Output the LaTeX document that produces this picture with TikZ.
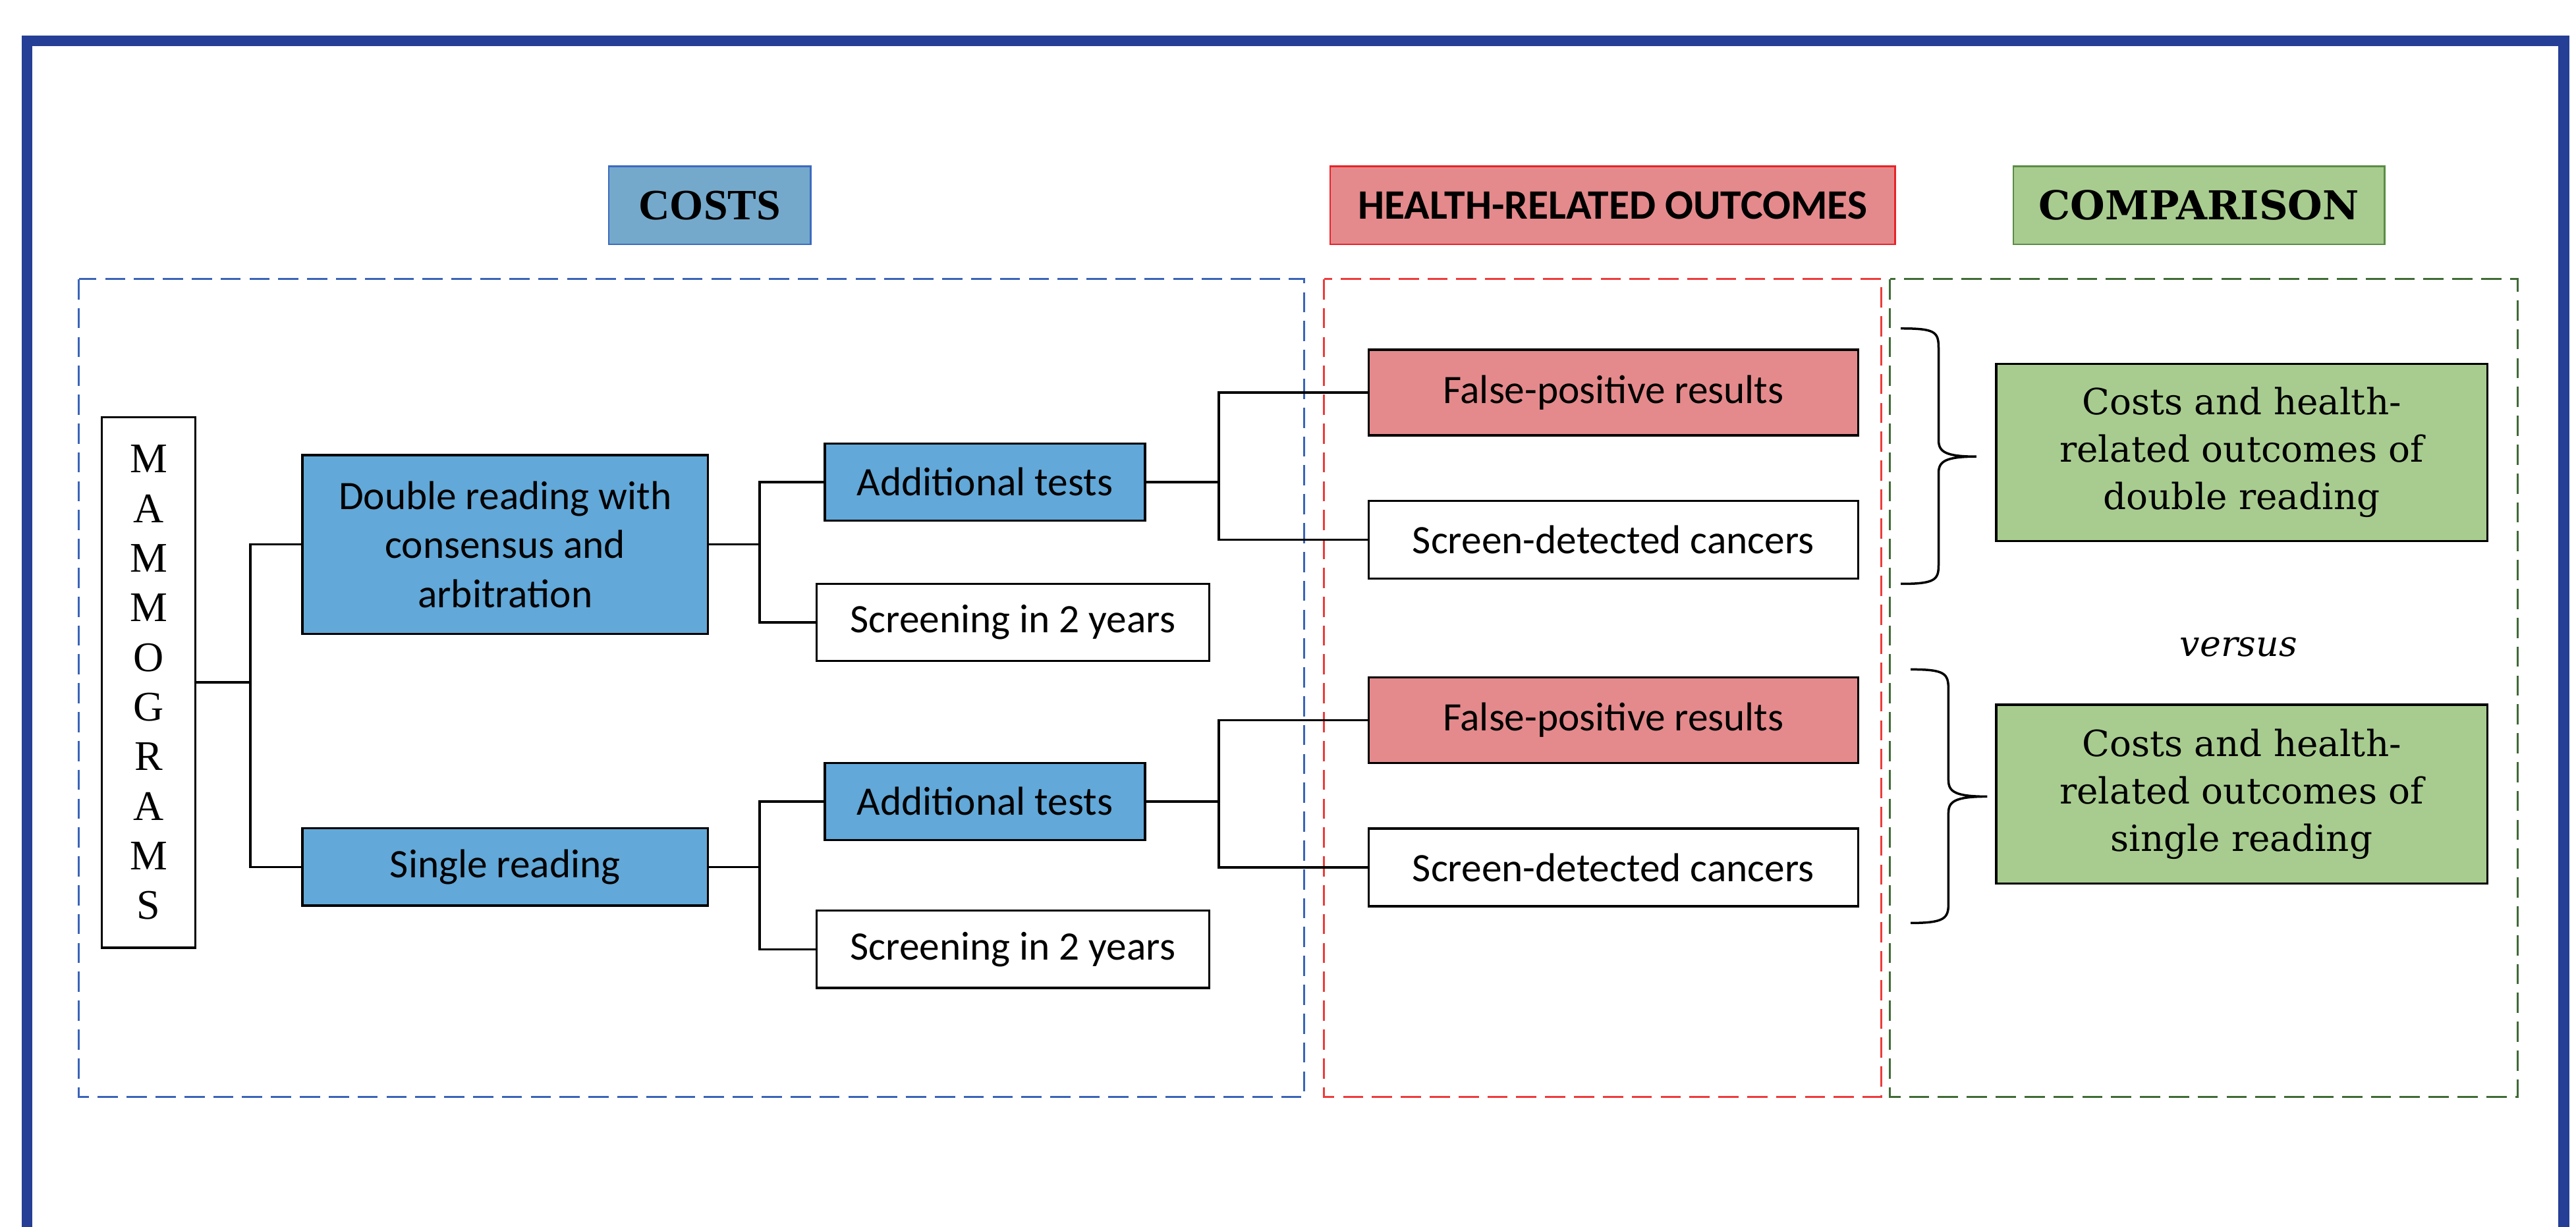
\documentclass[tikz,border=0pt]{standalone}
\usepackage{fontspec}
\setmainfont{Carlito}
\newfontfamily\georgiafont{DejaVu Serif}
\newfontfamily\timesfont{Liberation Serif}
\usepackage{tikz}
\usetikzlibrary{positioning}

\definecolor{frameblue}{HTML}{253F96}
\definecolor{costblue}{HTML}{74A9CB}
\definecolor{costedge}{HTML}{3D6AC0}
\definecolor{boxblue}{HTML}{62A8D8}
\definecolor{healthred}{HTML}{E48A8C}
\definecolor{healthedge}{HTML}{E8232A}
\definecolor{compgreen}{HTML}{A8CC8F}
\definecolor{compedge}{HTML}{5B8C45}
\definecolor{dashblue}{HTML}{3A64B8}
\definecolor{dashred}{HTML}{EE3B3B}
\definecolor{dashgreen}{HTML}{3F6B35}

\begin{document}
\begin{tikzpicture}[x=0.02cm, y=-0.02cm, line width=0.8pt]
    % Styles
    \tikzstyle{costbox}=[rectangle, draw, fill=boxblue, align=center, inner sep=0pt, font=\fontsize{14}{17}\selectfont]
    \tikzstyle{plainbox}=[rectangle, draw, fill=white, align=center, inner sep=0pt, font=\fontsize{14}{17}\selectfont]
    \tikzstyle{falsebox}=[rectangle, draw, fill=healthred, align=center, inner sep=0pt, font=\fontsize{14}{17}\selectfont, minimum width=5.96cm, minimum height=1.04cm]
    \tikzstyle{compbox}=[rectangle, draw, fill=compgreen, align=center, inner sep=0pt, font=\georgiafont\fontsize{12.5}{16.4}\selectfont, minimum width=5.98cm]
    \tikzstyle{header}=[rectangle, draw, line width=0.6pt, inner sep=0pt, minimum height=0.95cm]
    \tikzstyle{frame}=[dash pattern=on 7pt off 3pt, line width=0.7pt]

    \useasboundingbox (0,0) rectangle (1568,747);
    \clip (0,0) rectangle (1568,747);
    \draw[frameblue, line width=3.7pt] (16.3,24.8) rectangle (1560.6,800);

    % Headings
    \node (costs) [header, fill=costblue, draw=costedge, minimum width=2.46cm, font=\timesfont\bfseries\fontsize{15}{18}\selectfont] at (432,125) {COSTS};
    \node (health) [header, fill=healthred, draw=healthedge, minimum width=6.88cm, font=\bfseries\fontsize{14.5}{17}\selectfont] at (981.6,125) {HEALTH-RELATED OUTCOMES};
    \node (comparison) [header, fill=compgreen, draw=compedge, minimum width=4.52cm, font=\georgiafont\bfseries\fontsize{13.8}{17}\selectfont] at (1338.5,125) {COMPARISON};

    % Dashed panels
    \draw[frame, dashblue] (48,170) rectangle (794,668);
    \draw[frame, dashred] (806,170) rectangle (1145,668);
    \draw[frame, dashgreen] (1150.5,170) rectangle (1532.5,668);

    % Costs
    \node (mam) [plainbox, minimum width=1.14cm, minimum height=6.46cm, font=\timesfont\fontsize{14.6}{17.2}\selectfont] at (90.5,415.5) {M\\A\\M\\M\\O\\G\\R\\A\\M\\S};
    \node (dbl) [costbox, minimum width=4.94cm, minimum height=2.18cm] at (307.5,331.5) {Double reading with\\consensus and\\arbitration};
    \node (sgl) [costbox, minimum width=4.94cm, minimum height=0.94cm, below=2.34cm of dbl] {Single reading};
    \node (add1) [costbox, minimum width=3.9cm, minimum height=0.94cm] at (599.5,293.5) {Additional tests};
    \node (scr1) [plainbox, minimum width=4.78cm, minimum height=0.94cm] at (616.5,379) {Screening in 2 years};
    \node (add2) [costbox, minimum width=3.9cm, minimum height=0.94cm] at (599.5,488) {Additional tests};
    \node (scr2) [plainbox, minimum width=4.78cm, minimum height=0.94cm] at (616.5,578) {Screening in 2 years};

    % Health-related outcomes
    \node (fp1) [falsebox] at (982,239) {False-positive results};
    \node (sd1) [plainbox, minimum width=5.96cm, minimum height=0.95cm, below=0.77cm of fp1] {Screen-detected cancers};
    \node (fp2) [falsebox] at (982,438.5) {False-positive results};
    \node (sd2) [plainbox, minimum width=5.96cm, minimum height=0.95cm, below=0.77cm of fp2] {Screen-detected cancers};

    % Comparison
    \node (cmp1) [compbox, minimum height=2.16cm] at (1364.5,275.5) {Costs and health-\\related outcomes of\\double reading};
    \node (vs) [font=\georgiafont\itshape\fontsize{12.3}{15}\selectfont] at (1362.6,394) {versus};
    \node (cmp2) [compbox, minimum height=2.18cm] at (1364.5,483.5) {Costs and health-\\related outcomes of\\single reading};

    % Tree lines
    \draw (dbl.west) -- ++(-31,0) coordinate (jm) |- (sgl.west);
    \draw (mam.east) -- (mam.east -| jm);
    \draw (add1.west) -- ++(-39,0) coordinate (jd) |- (scr1.west);
    \draw (dbl.east) -- (dbl.east -| jd);
    \draw (add2.west) -- ++(-39,0) coordinate (js) |- (scr2.west);
    \draw (sgl.east) -- (sgl.east -| js);
    \draw (fp1.west) -- ++(-90.4,0) coordinate (ja) |- (sd1.west);
    \draw (add1.east) -- (add1.east -| ja);
    \draw (fp2.west) -- ++(-90.4,0) coordinate (jb) |- (sd2.west);
    \draw (add2.east) -- (add2.east -| jb);

    % Braces
    \draw (1157,200) .. controls (1178,200) and (1180,202) .. (1180,212) -- (1180,268)
        .. controls (1180,275) and (1184,278) .. (1203,278)
        .. controls (1184,278) and (1180,281) .. (1180,288) -- (1180,344)
        .. controls (1180,353) and (1178,355.5) .. (1157,355.5);
    \draw (1163,407.6) .. controls (1184,407.6) and (1186,410) .. (1186,420) -- (1186,475)
        .. controls (1186,482) and (1190,485) .. (1209.6,485)
        .. controls (1190,485) and (1186,488) .. (1186,495) -- (1186,550)
        .. controls (1186,559) and (1184,562) .. (1163,562);

\end{tikzpicture}
\end{document}
